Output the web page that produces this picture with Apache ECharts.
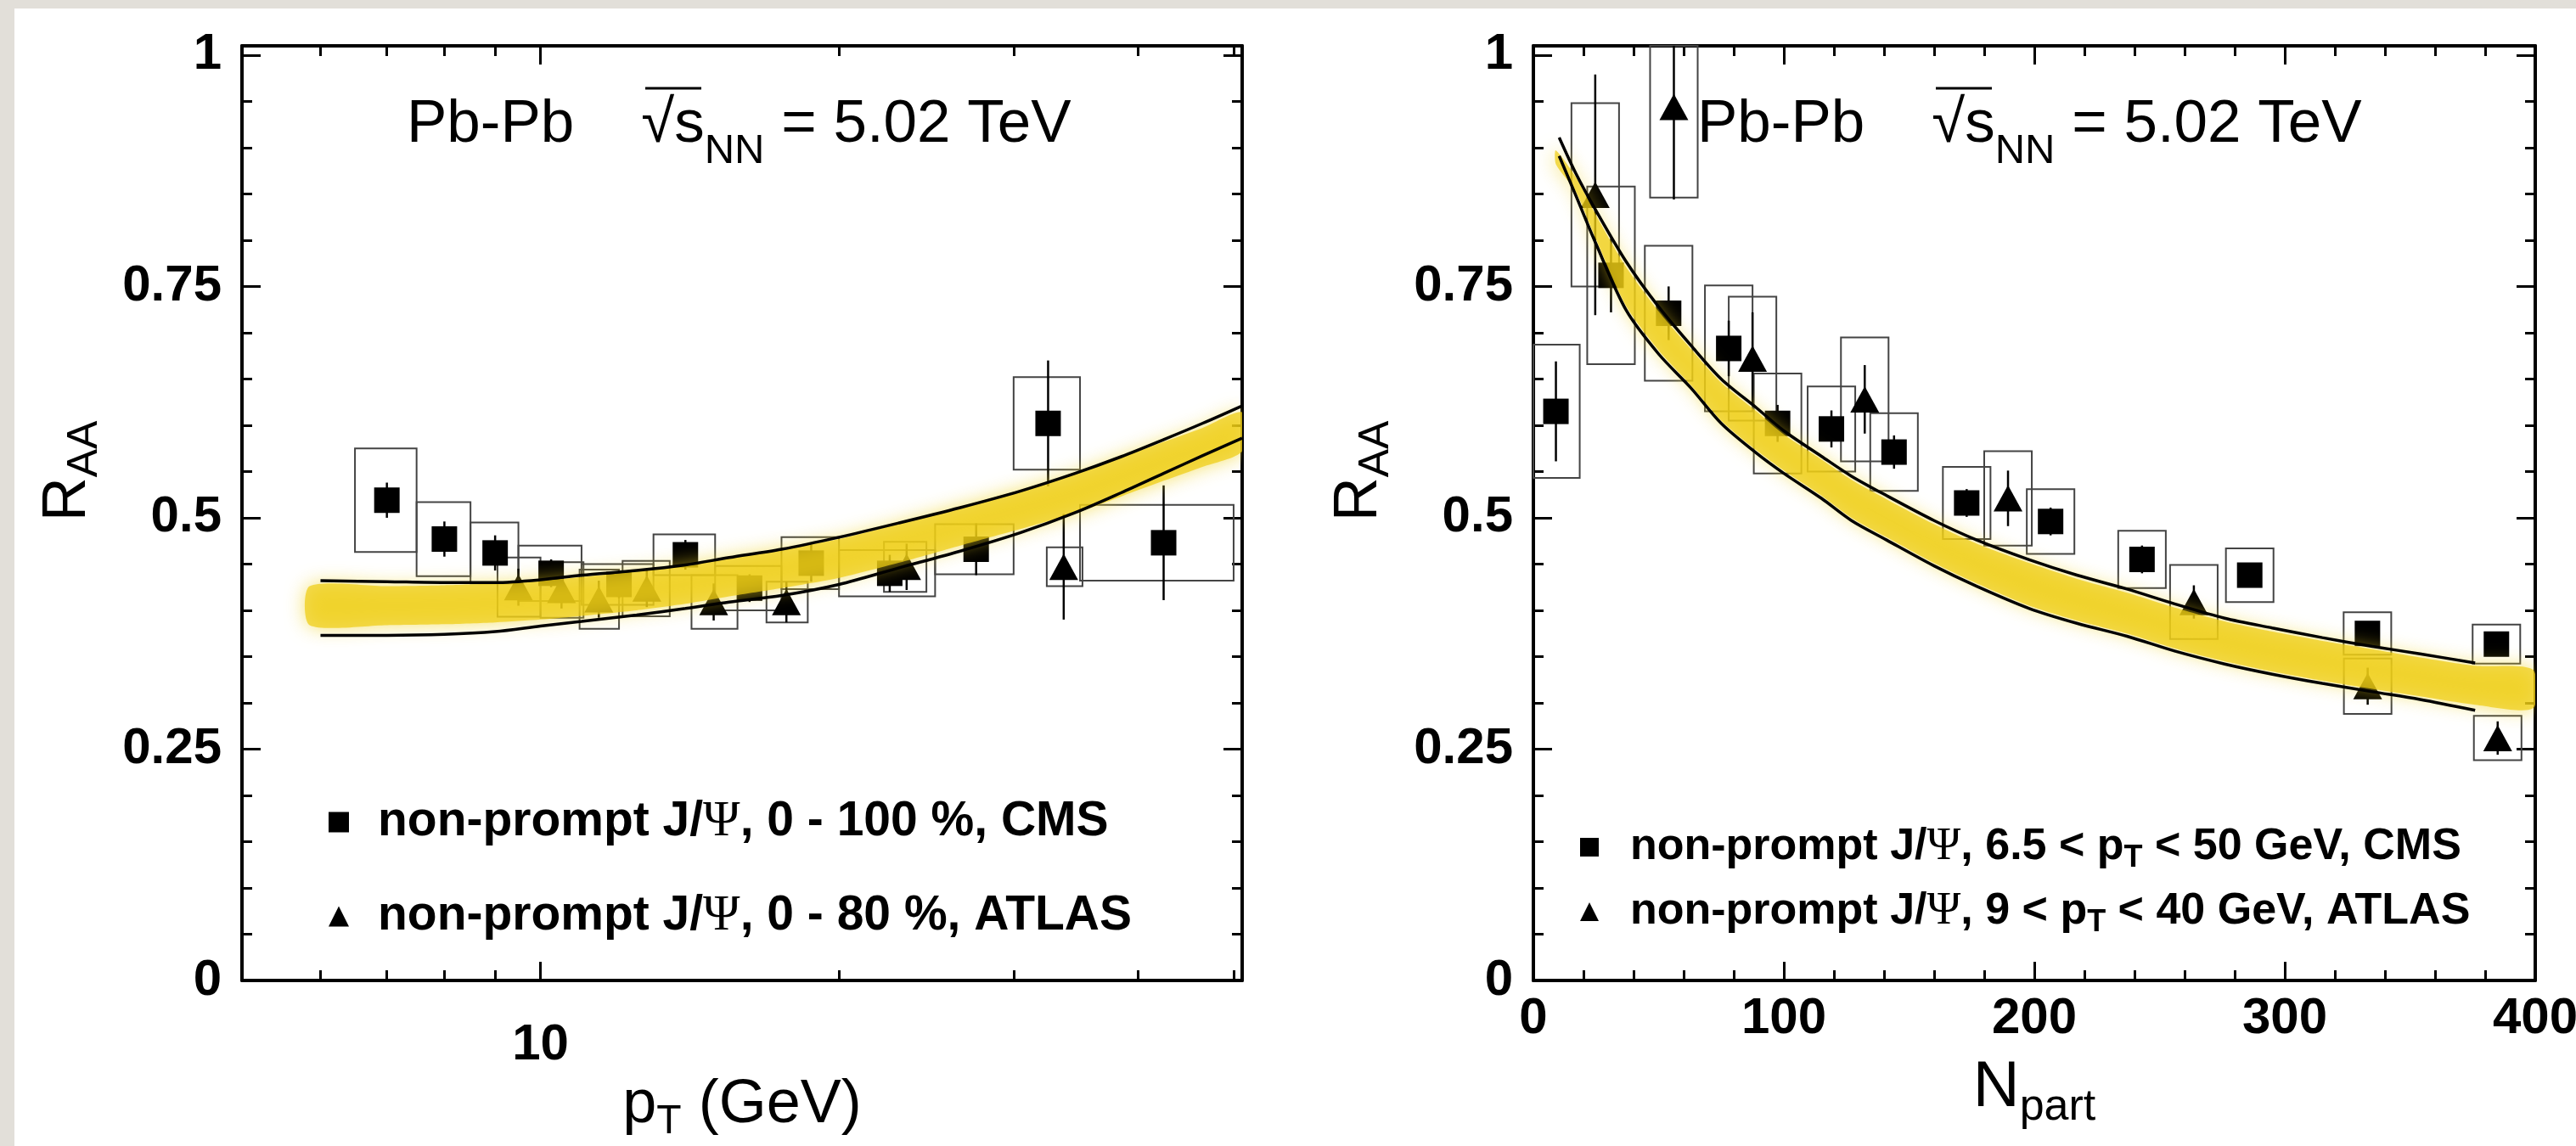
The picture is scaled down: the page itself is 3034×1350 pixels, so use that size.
<!DOCTYPE html>
<html>
<head>
<meta charset="utf-8">
<script src="https://cdn.jsdelivr.net/npm/echarts@6/dist/echarts.min.js"></script>
<style>
html,body{margin:0;padding:0;background:#e2dfd9;}
#c{position:absolute;left:0;top:0;width:3034px;height:1350px;}
</style>
</head>
<body>
<div id="c"></div>
<script>
// ---------------- axis ranges & ticks ----------------
const PT_MIN = 5, PT_MAX = 51;
const NP_MIN = 0, NP_MAX = 400;
const Y_MIN = 0, Y_MAX = 1.01;
const yMajorTicks = [0, 0.25, 0.5, 0.75, 1];
const yMinorTicks = [0.05, 0.1, 0.15, 0.2, 0.3, 0.35, 0.4, 0.45, 0.55, 0.6, 0.65, 0.7, 0.8, 0.85, 0.9, 0.95];
const ptMajorTicks = [10];
const ptMinorTicks = [6, 7, 8, 9, 20, 30, 40, 50];
const npMajorTicks = [0, 100, 200, 300, 400];
const npMinorTicks = [20, 40, 60, 80, 120, 140, 160, 180, 220, 240, 260, 280, 320, 340, 360, 380];

// ---------------- left panel: RAA vs pT ----------------
const cmsPt     = [7, 8, 9, 10.25, 12, 14, 16.25, 18.75, 22.5, 27.5, 32.5, 42.5];
const cmsPtLo   = [6.5, 7.5, 8.5, 9.5, 11, 13, 15, 17.5, 20, 25, 30, 35];
const cmsPtHi   = [7.5, 8.5, 9.5, 11, 13, 15, 17.5, 20, 25, 30, 35, 50];
const cmsRaaPt  = [0.519, 0.477, 0.462, 0.440, 0.428, 0.460, 0.424, 0.451, 0.440, 0.466, 0.602, 0.473];
const cmsStatPt = [0.019, 0.019, 0.019, 0.015, 0.015, 0.016, 0.015, 0.020, 0.020, 0.028, 0.068, 0.062];
const cmsSysPt  = [0.056, 0.040, 0.033, 0.030, 0.022, 0.022, 0.024, 0.028, 0.025, 0.027, 0.050, 0.041];

const atlasPt     = [9.5, 10.5, 11.45, 12.8, 14.95, 17.7, 23.4, 33.7];
const atlasPtLo   = [9.05, 10.0, 10.95, 12.1, 14.2, 16.9, 22.2, 32.4];
const atlasPtHi   = [10.0, 11.05, 12.0, 13.5, 15.8, 18.6, 24.5, 35.2];
const atlasRaaPt  = [0.425, 0.422, 0.412, 0.4235, 0.409, 0.409, 0.447, 0.447];
const atlasStatPt = [0.020, 0.020, 0.020, 0.020, 0.020, 0.022, 0.025, 0.057];
const atlasSysPt  = [0.032, 0.030, 0.032, 0.030, 0.029, 0.022, 0.027, 0.021];

const bandPtX  = [6, 7, 8, 9, 10, 11, 12.5, 14, 15.5, 17.5, 20, 23, 26.5, 30.5, 34.6, 38.5, 42.5, 46.5, 51];
const bandUpPt = [0.432, 0.431, 0.430, 0.430, 0.433, 0.438, 0.443, 0.449, 0.457, 0.466, 0.479, 0.4945, 0.511, 0.529, 0.548, 0.566, 0.5845, 0.602, 0.621];
const bandLoPt = [0.373, 0.373, 0.374, 0.377, 0.383, 0.388, 0.395, 0.402, 0.409, 0.416, 0.428, 0.446, 0.464, 0.484, 0.5055, 0.527, 0.548, 0.567, 0.586];

const yellowPtX  = [5.85, 7, 8, 9, 10, 11, 12.5, 14, 15.5, 17.5, 20, 23, 26.5, 30.5, 34.6, 38.5, 42.5, 46.5, 51];
const yellowLoPt = [0.384, 0.384, 0.385, 0.387, 0.390, 0.394, 0.400, 0.407, 0.415, 0.424, 0.435, 0.4515, 0.470, 0.488, 0.505, 0.523, 0.540, 0.555, 0.572];
const yellowHiPt = [0.426, 0.426, 0.427, 0.429, 0.432, 0.436, 0.442, 0.449, 0.457, 0.466, 0.477, 0.4935, 0.512, 0.530, 0.547, 0.565, 0.582, 0.597, 0.614];

// ---------------- right panel: RAA vs Npart ----------------
const NP_BOX_HALF = 9.5;
const cmsNp     = [9, 31, 54, 78, 97.5, 119, 144, 173, 206.5, 243, 286, 333, 384.5];
const cmsRaaNp  = [0.615, 0.762, 0.721, 0.683, 0.602, 0.596, 0.571, 0.516, 0.496, 0.455, 0.438, 0.375, 0.3635];
const cmsStatNp = [0.054, 0.040, 0.029, 0.030, 0.020, 0.020, 0.018, 0.015, 0.015, 0.015, 0.012, 0.013, 0.012];
const cmsSysNp  = [0.072, 0.096, 0.073, 0.068, 0.054, 0.046, 0.042, 0.039, 0.035, 0.031, 0.029, 0.023, 0.021];

const atlasNp     = [24.7, 56.1, 87.5, 132.3, 189.5, 263.7, 333.1, 385];
const atlasRaaNp  = [0.849, 0.944, 0.672, 0.628, 0.521, 0.409, 0.318, 0.262];
const atlasStatNp = [0.130, 0.100, 0.050, 0.037, 0.030, 0.018, 0.020, 0.018];
const atlasSysNp  = [0.099, 0.098, 0.067, 0.067, 0.051, 0.040, 0.030, 0.024];

const bandNpX  = [10.3, 17, 25, 37, 50, 63, 75, 89, 100, 115, 127, 141, 160, 177, 198, 217, 237, 256, 276, 295, 315, 335, 354, 376];
const bandUpNp = [0.911, 0.872, 0.832, 0.777, 0.728, 0.686, 0.650, 0.619, 0.594, 0.5665, 0.545, 0.524, 0.497, 0.476, 0.4547, 0.438, 0.423, 0.407, 0.3915, 0.381, 0.3705, 0.361, 0.353, 0.343];
const bandLoNp = [0.891, 0.848, 0.796, 0.7245, 0.677, 0.640, 0.602, 0.570, 0.548, 0.521, 0.497, 0.476, 0.448, 0.426, 0.402, 0.386, 0.372, 0.356, 0.342, 0.331, 0.321, 0.312, 0.3037, 0.292];

const yellowNpX  = [9, 17, 25, 37, 50, 63, 75, 89, 100, 115, 127, 141, 160, 177, 198, 217, 237, 256, 276, 295, 315, 335, 354, 376, 399];
const yellowLoNp = [0.882, 0.852, 0.801, 0.729, 0.681, 0.643, 0.605, 0.573, 0.551, 0.524, 0.500, 0.479, 0.451, 0.429, 0.405, 0.389, 0.375, 0.359, 0.345, 0.334, 0.324, 0.315, 0.307, 0.298, 0.294];
const yellowHiNp = [0.897, 0.868, 0.827, 0.771, 0.723, 0.682, 0.646, 0.615, 0.590, 0.563, 0.541, 0.520, 0.493, 0.472, 0.451, 0.434, 0.419, 0.403, 0.388, 0.377, 0.367, 0.358, 0.349, 0.340, 0.336];

// ---------------- texts ----------------
const NAME_CMS_PT   = 'non-prompt J/Ψ, 0 - 100 %, CMS';
const NAME_ATLAS_PT = 'non-prompt J/Ψ, 0 - 80 %, ATLAS';
const NAME_CMS_NP   = 'non-prompt J/Ψ, 6.5 < pT < 50 GeV, CMS';
const NAME_ATLAS_NP = 'non-prompt J/Ψ, 9 < pT < 40 GeV, ATLAS';

const FONT = '"Liberation Sans", Arial, Helvetica, sans-serif';
const SERIF = '"Liberation Serif", "Times New Roman", serif';

// ---------------- axes ----------------
function mkAxis(gridIndex, position, type, min, max, ticks, tickLen, withLine, label, extra) {
  const ax = {
    type: type, gridIndex: gridIndex, position: position, min: min, max: max,
    splitLine: { show: false },
    minorTick: { show: false },
    axisLine: { show: withLine, onZero: false, lineStyle: { color: '#000', width: 4 } },
    axisTick: { show: true, inside: true, length: tickLen, customValues: ticks, lineStyle: { color: '#000', width: 3 } },
    axisLabel: label || { show: false }
  };
  if (type === 'log') ax.logBase = 10;
  if (extra) Object.assign(ax, extra);
  return ax;
}
const tickLabelStyle = { fontSize: 60, fontWeight: 'bold', fontFamily: FONT, color: '#000' };

const xAxes = [
  mkAxis(0, 'bottom', 'log', PT_MIN, PT_MAX, ptMajorTicks, 22, true,
    Object.assign({ customValues: ptMajorTicks, margin: 46, formatter: v => String(Math.round(v)) }, tickLabelStyle),
    { name: '{i|p}{s|T}{i| (GeV)}', nameLocation: 'middle', nameGap: 85,
      nameTextStyle: { rich: {
        i: { fontSize: 72, fontFamily: FONT, color: '#000', verticalAlign: 'middle' },
        s: { fontSize: 48, fontFamily: FONT, color: '#000', verticalAlign: 'middle', padding: [40, 0, 0, 0] } } } }),
  mkAxis(0, 'bottom', 'log', PT_MIN, PT_MAX, ptMinorTicks, 12, false),
  mkAxis(0, 'top', 'log', PT_MIN, PT_MAX, ptMajorTicks, 22, true),
  mkAxis(0, 'top', 'log', PT_MIN, PT_MAX, ptMinorTicks, 12, false),
  mkAxis(1, 'bottom', 'value', NP_MIN, NP_MAX, npMajorTicks, 22, true,
    Object.assign({ customValues: npMajorTicks, margin: 15, formatter: v => String(Math.round(v)) }, tickLabelStyle),
    { name: '{i|N}{s|part}', nameLocation: 'middle', nameGap: 78,
      nameTextStyle: { rich: {
        i: { fontSize: 76, fontFamily: FONT, color: '#000', verticalAlign: 'middle' },
        s: { fontSize: 52, fontFamily: FONT, color: '#000', verticalAlign: 'middle', padding: [46, 0, 0, 0] } } } }),
  mkAxis(1, 'bottom', 'value', NP_MIN, NP_MAX, npMinorTicks, 12, false),
  mkAxis(1, 'top', 'value', NP_MIN, NP_MAX, npMajorTicks, 22, true),
  mkAxis(1, 'top', 'value', NP_MIN, NP_MAX, npMinorTicks, 12, false)
];
const yLabel = Object.assign({ customValues: yMajorTicks, margin: 24, formatter: v => String(+(+v).toFixed(2)) }, tickLabelStyle);
const yAxes = [
  mkAxis(0, 'left', 'value', Y_MIN, Y_MAX, yMajorTicks, 22, true, yLabel),
  mkAxis(0, 'left', 'value', Y_MIN, Y_MAX, yMinorTicks, 12, false),
  mkAxis(0, 'right', 'value', Y_MIN, Y_MAX, yMajorTicks, 22, true),
  mkAxis(0, 'right', 'value', Y_MIN, Y_MAX, yMinorTicks, 12, false),
  mkAxis(1, 'left', 'value', Y_MIN, Y_MAX, yMajorTicks, 22, true, yLabel),
  mkAxis(1, 'left', 'value', Y_MIN, Y_MAX, yMinorTicks, 12, false),
  mkAxis(1, 'right', 'value', Y_MIN, Y_MAX, yMajorTicks, 22, true),
  mkAxis(1, 'right', 'value', Y_MIN, Y_MAX, yMinorTicks, 12, false)
];

// ---------------- series helpers ----------------
function renderBox(params, api) {
  const a = api.coord([api.value(0), api.value(3)]);
  const b = api.coord([api.value(1), api.value(2)]);
  const cs = params.coordSys;
  const r = echarts.graphic.clipRectByRect(
    { x: a[0], y: a[1], width: b[0] - a[0], height: b[1] - a[1] },
    { x: cs.x, y: cs.y, width: cs.width, height: cs.height });
  return r && { type: 'rect', shape: r, style: { fill: 'none', stroke: '#444', lineWidth: 2 } };
}
function renderBar(params, api) {
  const x = api.value(0);
  const a = api.coord([x, Math.max(api.value(1), Y_MIN)]);
  const b = api.coord([x, Math.min(api.value(2), Y_MAX)]);
  return { type: 'line', shape: { x1: a[0], y1: a[1], x2: b[0], y2: b[1] }, style: { stroke: '#000', lineWidth: 2.5 } };
}
function yellowRenderer(xs, lo, hi) {
  return function (params, api) {
    if (params.dataIndex !== 0) return null;
    const pts = [];
    for (let i = 0; i < xs.length; i++) pts.push(api.coord([xs[i], hi[i]]));
    for (let i = xs.length - 1; i >= 0; i--) pts.push(api.coord([xs[i], lo[i]]));
    return { type: 'polygon', shape: { points: pts, smooth: 0.25 },
      style: { fill: 'rgba(238,205,20,0.72)', shadowBlur: 22, shadowColor: 'rgba(240,210,30,0.9)' } };
  };
}
function plotSeries(xi, yi, d) {
  const ax = { xAxisIndex: xi, yAxisIndex: yi };
  const boxes = (xs, lo, hi, r, s) => xs.map((x, i) => [lo[i], hi[i], r[i] - s[i], r[i] + s[i]]);
  const bars = (xs, r, s) => xs.map((x, i) => [x, r[i] - s[i], r[i] + s[i]]);
  const pts = (xs, r) => xs.map((x, i) => [x, r[i]]);
  return [
    Object.assign({ type: 'custom', z: 1, silent: true, renderItem: renderBox, encode: { x: [0, 1], y: [2, 3] },
      data: boxes(d.cx, d.cLo, d.cHi, d.cR, d.cSys) }, ax),
    Object.assign({ type: 'custom', z: 1, silent: true, renderItem: renderBox, encode: { x: [0, 1], y: [2, 3] },
      data: boxes(d.ax, d.aLo, d.aHi, d.aR, d.aSys) }, ax),
    Object.assign({ type: 'custom', z: 3, silent: true, renderItem: renderBar, encode: { x: 0, y: [1, 2] },
      data: bars(d.cx, d.cR, d.cStat) }, ax),
    Object.assign({ type: 'custom', z: 3, silent: true, renderItem: renderBar, encode: { x: 0, y: [1, 2] },
      data: bars(d.ax, d.aR, d.aStat) }, ax),
    Object.assign({ type: 'scatter', name: d.cName, z: 4, silent: true, symbol: 'rect', symbolSize: 30,
      itemStyle: { color: '#000', opacity: 1 }, data: pts(d.cx, d.cR) }, ax),
    Object.assign({ type: 'scatter', name: d.aName, z: 4, silent: true, symbol: 'triangle', symbolSize: [34, 31],
      itemStyle: { color: '#000', opacity: 1 }, data: pts(d.ax, d.aR) }, ax),
    Object.assign({ type: 'custom', z: 6, silent: true, clip: true, renderItem: yellowRenderer(d.yx, d.yLo, d.yHi),
      encode: { x: 0, y: [1, 2] }, data: d.yx.map((x, i) => [x, d.yLo[i], d.yHi[i]]) }, ax),
    Object.assign({ type: 'line', z: 7, silent: true, smooth: 0.3, symbol: 'none',
      lineStyle: { color: '#000', width: 3.5 }, data: pts(d.bx, d.bUp) }, ax),
    Object.assign({ type: 'line', z: 7, silent: true, smooth: 0.3, symbol: 'none',
      lineStyle: { color: '#000', width: 3.5 }, data: pts(d.bx, d.bLo) }, ax)
  ];
}

const series = [].concat(
  plotSeries(0, 0, {
    cx: cmsPt, cLo: cmsPtLo, cHi: cmsPtHi, cR: cmsRaaPt, cStat: cmsStatPt, cSys: cmsSysPt, cName: NAME_CMS_PT,
    ax: atlasPt, aLo: atlasPtLo, aHi: atlasPtHi, aR: atlasRaaPt, aStat: atlasStatPt, aSys: atlasSysPt, aName: NAME_ATLAS_PT,
    yx: yellowPtX, yLo: yellowLoPt, yHi: yellowHiPt, bx: bandPtX, bUp: bandUpPt, bLo: bandLoPt
  }),
  plotSeries(4, 4, {
    cx: cmsNp, cLo: cmsNp.map(n => n - NP_BOX_HALF), cHi: cmsNp.map(n => n + NP_BOX_HALF), cR: cmsRaaNp, cStat: cmsStatNp, cSys: cmsSysNp, cName: NAME_CMS_NP,
    ax: atlasNp, aLo: atlasNp.map(n => n - NP_BOX_HALF), aHi: atlasNp.map(n => n + NP_BOX_HALF), aR: atlasRaaNp, aStat: atlasStatNp, aSys: atlasSysNp, aName: NAME_ATLAS_NP,
    yx: yellowNpX, yLo: yellowLoNp, yHi: yellowHiNp, bx: bandNpX, bUp: bandUpNp, bLo: bandLoNp
  })
);

// ---------------- legends ----------------
const legRichL = {
  g: { width: 29 },
  b: { fontSize: 57, fontWeight: 'bold', fontFamily: FONT, color: '#000', verticalAlign: 'middle' },
  psi: { fontSize: 59, fontFamily: SERIF, color: '#000', verticalAlign: 'middle' }
};
const legRichR = {
  g: { width: 32 },
  b: { fontSize: 52, fontWeight: 'bold', fontFamily: FONT, color: '#000', verticalAlign: 'middle' },
  psi: { fontSize: 54, fontFamily: SERIF, color: '#000', verticalAlign: 'middle' },
  s: { fontSize: 36, fontWeight: 'bold', fontFamily: FONT, color: '#000', verticalAlign: 'middle', padding: [26, 0, 0, 0] }
};
function legFormat(name) {
  const parts = name.split('Ψ');
  let tail = parts[1];
  if (tail.indexOf('pT') >= 0) {
    const t = tail.split('pT');
    tail = '{b|' + t[0] + 'p}{s|T}{b|' + t[1] + '}';
  } else {
    tail = '{b|' + tail + '}';
  }
  return '{g|}{b|' + parts[0] + '}{psi|Ψ}' + tail;
}

// ---------------- graphic texts ----------------
function titleEls(x0) {
  return [
    { type: 'text', x: x0, y: 147, silent: true, style: {
        text: '{m|Pb-Pb    }{m|√}{m|s}{n|NN}{m| = 5.02 TeV}', align: 'left', verticalAlign: 'middle',
        rich: {
          m: { fontSize: 71, fontFamily: FONT, fill: '#000', verticalAlign: 'middle' },
          n: { fontSize: 49, fontFamily: FONT, fill: '#000', verticalAlign: 'middle', padding: [62, 0, 0, 0] }
        } } },
    { type: 'line', silent: true, shape: { x1: x0 + 281, y1: 104, x2: x0 + 347, y2: 104 }, style: { stroke: '#000', lineWidth: 3 } }
  ];
}
function raaEl(x, y) {
  return { type: 'text', x: x, y: y, rotation: Math.PI / 2, silent: true, style: {
      text: '{a|R}{s|AA}', align: 'center', verticalAlign: 'middle',
      rich: {
        a: { fontSize: 72, fontFamily: FONT, fill: '#000', verticalAlign: 'middle' },
        s: { fontSize: 50, fontFamily: FONT, fill: '#000', verticalAlign: 'middle', padding: [40, 0, 0, 0] }
      } } };
}

const option = {
  backgroundColor: '#e2dfd9',
  animation: false,
  grid: [
    { left: 285, top: 54, width: 1178, height: 1101, show: false, containLabel: false, outerBoundsMode: 'none' },
    { left: 1806, top: 54, width: 1180, height: 1101, show: false, containLabel: false, outerBoundsMode: 'none' }
  ],
  xAxis: xAxes,
  yAxis: yAxes,
  legend: [
    { data: [NAME_CMS_PT, NAME_ATLAS_PT], orient: 'vertical', left: 382, top: 934, itemWidth: 24, itemHeight: 24,
      itemGap: 52, selectedMode: false, formatter: legFormat, textStyle: { rich: legRichL } },
    { data: [NAME_CMS_NP, NAME_ATLAS_NP], orient: 'vertical', left: 1856, top: 966, itemWidth: 22, itemHeight: 22,
      itemGap: 18, selectedMode: false, formatter: legFormat, textStyle: { rich: legRichR } }
  ],
  graphic: { elements: [
    { type: 'rect', z: -100, silent: true, shape: { x: 17, y: 10, width: 3017, height: 1340 }, style: { fill: '#ffffff' } }
  ].concat(titleEls(479), titleEls(1999), [raaEl(80, 555), raaEl(1601, 555)]) },
  series: series
};

const chart = echarts.init(document.getElementById('c'), null, { renderer: 'canvas', width: 3034, height: 1350 });
chart.setOption(option);
</script>
</body>
</html>
